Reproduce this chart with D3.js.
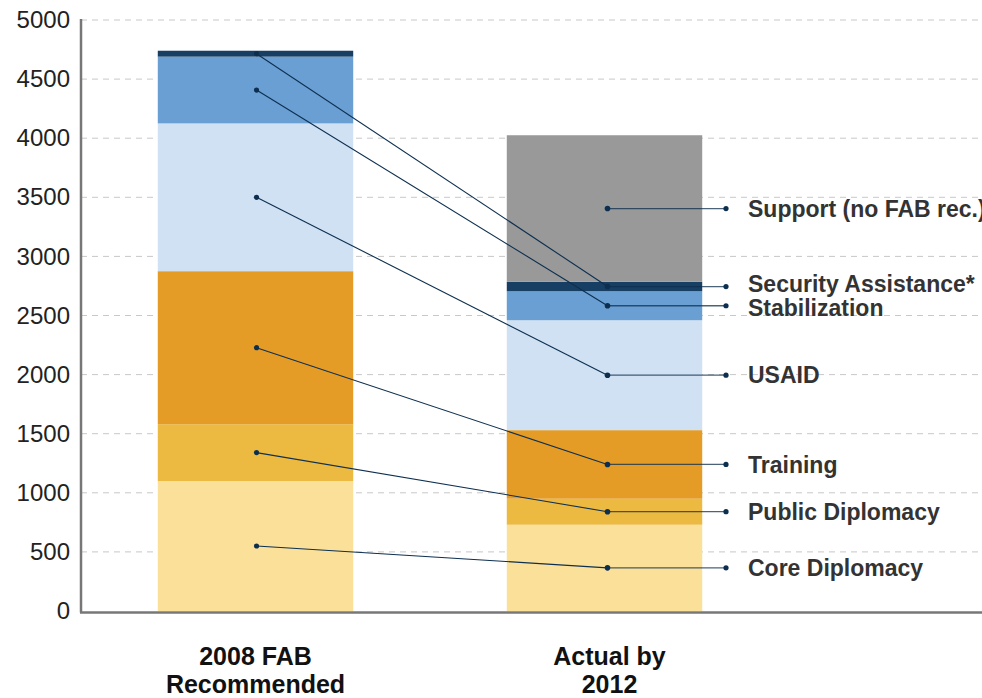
<!DOCTYPE html>
<html>
<head>
<meta charset="utf-8">
<script src="https://cdn.jsdelivr.net/npm/d3@7"></script>
<style>
  body { margin: 0; background: #fff; }
  svg { display: block; font-family: "Liberation Sans", Arial, sans-serif; }
</style>
</head>
<body>
<div id="chart"></div>
<script>
// categories (bottom to top of each stack)
var categories = ["Core Diplomacy", "Public Diplomacy", "Training", "USAID",
  "Stabilization", "Security Assistance*", "Support (no FAB rec.)"];
var bars = [["2008 FAB", "Recommended"], ["Actual by", "2012"]];
var fab2008 = [1100, 480, 1295, 1250, 565, 50, 0];
var actual2012 = [730, 220, 580, 930, 245, 80, 1240];
var colors = ["#fbe09a", "#ecb941", "#e49c26", "#cfe1f2", "#6a9fd4", "#173f63", "#999999"];
var yTicks = [0, 500, 1000, 1500, 2000, 2500, 3000, 3500, 4000, 4500, 5000];

var W = 982, H = 698;
var plotLeft = 81, plotTop = 20, plotBottom = 611;

var svg = d3.select("#chart").append("svg").attr("width", W).attr("height", H);

var y = d3.scaleLinear().domain([0, 5000]).range([plotBottom, plotTop]);
var x = d3.scaleBand().domain([0, 1]).range([plotLeft, 779]).paddingInner(0.44).paddingOuter(0.22);

// gridlines
svg.append("g").selectAll("line").data(yTicks.slice(1)).enter().append("line")
  .attr("x1", plotLeft).attr("x2", W)
  .attr("y1", function (d) { return y(d); }).attr("y2", function (d) { return y(d); })
  .attr("stroke", "#c8c8c8").attr("stroke-width", 1).attr("stroke-dasharray", "6,5");

// stacks
function stack(vals) {
  var acc = 0;
  return vals.map(function (v, i) {
    var s = { i: i, y0: acc, y1: acc + v, v: v };
    acc += v;
    return s;
  });
}
var stacks = [stack(fab2008), stack(actual2012)];

stacks.forEach(function (st, b) {
  svg.append("g").selectAll("rect").data(st.filter(function (d) { return d.v > 0; })).enter().append("rect")
    .attr("x", x(b)).attr("width", x.bandwidth())
    .attr("y", function (d) { return y(d.y1); })
    .attr("height", function (d) { return y(d.y0) - y(d.y1); })
    .attr("fill", function (d) { return colors[d.i]; });
});

// axes
var yAxis = d3.axisLeft(y).tickValues(yTicks).tickFormat(d3.format("d")).tickSize(0).tickPadding(11);
var ya = svg.append("g").attr("transform", "translate(" + plotLeft + ",0)").call(yAxis);
ya.select(".domain").remove();
ya.selectAll("text").attr("font-size", 24).attr("fill", "#222")
  .attr("font-family", "Liberation Sans, Arial, sans-serif");

svg.append("line").attr("x1", plotLeft).attr("x2", plotLeft).attr("y1", plotTop - 1).attr("y2", plotBottom + 1.5)
  .attr("stroke", "#777").attr("stroke-width", 2.5);
svg.append("line").attr("x1", plotLeft - 1).attr("x2", W).attr("y1", plotBottom + 1.5).attr("y2", plotBottom + 1.5)
  .attr("stroke", "#777").attr("stroke-width", 2.5);

// category labels under bars
bars.forEach(function (lines, b) {
  var t = svg.append("text").attr("text-anchor", "middle").attr("font-weight", "bold")
    .attr("font-size", 25).attr("fill", "#111");
  lines.forEach(function (ln, k) {
    t.append("tspan").attr("x", x(b) + x.bandwidth() / 2 + (b ? 5 : 0)).attr("y", 665 + k * 28).text(ln);
  });
});

// connector lines and labels
var dotX1 = x(0) + x.bandwidth() / 2 + 1;
var dotX2 = x(1) + x.bandwidth() / 2 + 3;
var labDotX = 726, labX = 748;
var navy = "#0d2f4f";

var links = categories.map(function (c, i) {
  var a = stacks[0][i], b = stacks[1][i];
  return {
    name: c,
    y1: a.v > 0 ? y((a.y0 + a.y1) / 2) : null,
    y2: y((b.y0 + b.y1) / 2)
  };
});

// label positions: start at dot height, push apart when too close
var labs = links.map(function (d) { return { name: d.name, ty: d.y2 }; })
  .sort(function (a, b) { return a.ty - b.ty; });
for (var k = 1; k < labs.length; k++) {
  var gap = labs[k].ty - labs[k - 1].ty;
  if (gap < 24) {
    var push = (24 - gap) / 2;
    labs[k - 1].ty -= push;
    labs[k].ty += push;
  }
}

var g = svg.append("g");
links.forEach(function (d) {
  if (d.y1 !== null) {
    g.append("line").attr("x1", dotX1).attr("y1", d.y1).attr("x2", dotX2).attr("y2", d.y2)
      .attr("stroke", navy).attr("stroke-width", 1.1);
    g.append("circle").attr("cx", dotX1).attr("cy", d.y1).attr("r", 2.6).attr("fill", navy);
  }
  g.append("line").attr("x1", dotX2).attr("y1", d.y2).attr("x2", labDotX).attr("y2", d.y2)
    .attr("stroke", navy).attr("stroke-width", 1.3).attr("stroke-opacity", 0.75);
  g.append("circle").attr("cx", dotX2).attr("cy", d.y2).attr("r", 2.8).attr("fill", navy);
  g.append("circle").attr("cx", labDotX).attr("cy", d.y2).attr("r", 2.6).attr("fill", navy);
});

g.selectAll("text.lab").data(labs).enter().append("text").attr("class", "lab")
  .attr("x", labX).attr("y", function (d) { return d.ty; }).attr("dy", "0.36em")
  .attr("font-size", 23).attr("font-weight", "bold").attr("fill", "#333")
  .text(function (d) { return d.name; });
</script>
</body>
</html>
